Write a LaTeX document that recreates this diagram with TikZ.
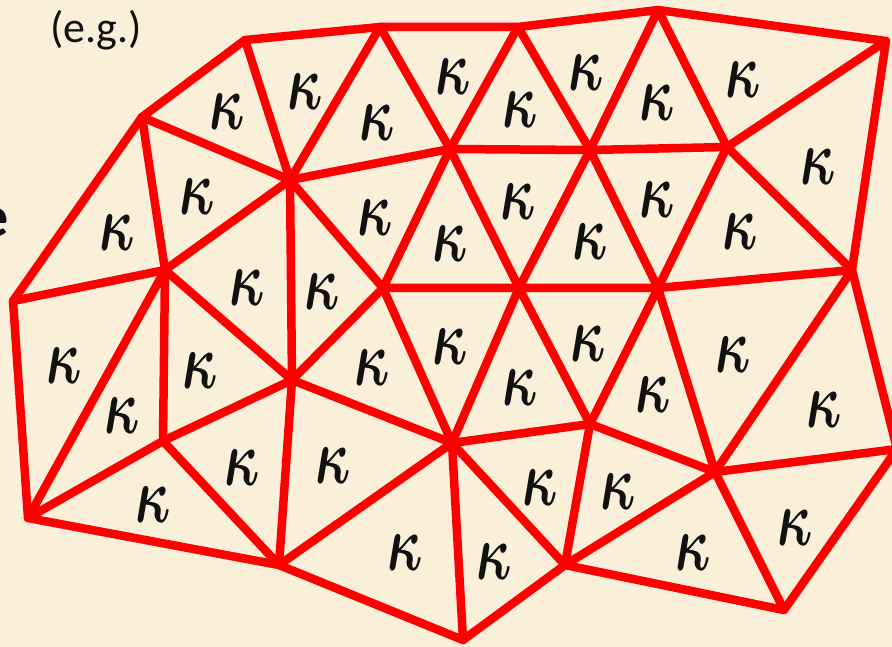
\documentclass[tikz,border=0pt]{standalone}
\usepackage{amsmath}
\usepackage{fontspec}
\newfontfamily\calfont{Carlito}
\definecolor{parch}{HTML}{FAF0D9}
\definecolor{meshred}{HTML}{FF0000}
\definecolor{inkblk}{HTML}{111111}
\newcommand\kap{\scalebox{5.3}[8.0]{$\boldsymbol{\kappa}$}}

\begin{document}
\begin{tikzpicture}[
  x=1pt, y=-1pt,
  edge/.style={draw=meshred, line width=8.5pt, line join=round, line cap=round,
    preaction={draw=black, opacity=0.3,
      transform canvas={xshift=1.5pt, yshift=-2pt}}},
  kap/.style={font=\normalsize, text=inkblk, inner sep=0pt},
]

% Background canvas
\useasboundingbox (0,0) rectangle (892,647);
\fill[parch] (0,0) rectangle (892,647);

% Texts at the left
\node[font=\calfont\fontsize{44}{44}\selectfont, text=inkblk] (eg) at (96,30) {(e.g.)};
\node[font=\calfont\bfseries\fontsize{58}{58}\selectfont, text=inkblk,
  anchor=base] (cut) at (-6,237) {e};

% === Mesh vertices ===
\coordinate (vA) at (245,40);
\coordinate (vB) at (142,117);
\coordinate (vC) at (290,180);
\coordinate (vD) at (380,27);
\coordinate (vE) at (518,27);
\coordinate (vF) at (450,149);
\coordinate (vG) at (590,150);
\coordinate (vH) at (658,10);
\coordinate (vI) at (886,41);
\coordinate (vJ) at (727,147);
\coordinate (vK) at (852,270);
\coordinate (vL) at (658,288);
\coordinate (vM) at (519,288);
\coordinate (vN) at (383,288);
\coordinate (vO) at (292,380);
\coordinate (vP) at (165,270);
\coordinate (vQ) at (13,301);
\coordinate (vR) at (163,441);
\coordinate (vS) at (28,518);
\coordinate (vT) at (279,565);
\coordinate (vU) at (452,443);
\coordinate (vV) at (590,424);
\coordinate (vW) at (565,565);
\coordinate (vX) at (463,640);
\coordinate (vY) at (715,472);
\coordinate (vZ) at (784,610);
\coordinate (vAA) at (897,449);

% === Mesh edges ===
% outline
\draw[edge] (vB) -- (vA) -- (vD) -- (vE) -- (vH) -- (vI) -- (vK) -- (vAA)
  -- (vZ) -- (vW) -- (vX) -- (vT) -- (vS) -- (vQ) -- cycle;
% inner edges
\draw[edge] (vB) -- (vC) -- (vF) -- (vG) -- (vJ) -- (vI);
\draw[edge] (vA) -- (vC) -- (vD) -- (vF) -- (vE) -- (vG) -- (vH) -- (vJ) -- (vK);
\draw[edge] (vQ) -- (vP) -- (vC) -- (vN) -- (vF) -- (vM) -- (vG) -- (vL) -- (vJ);
\draw[edge] (vB) -- (vP) -- (vS) -- (vR) -- (vP) -- (vO) -- (vC);
\draw[edge] (vR) -- (vO) -- (vN) -- (vM) -- (vL) -- (vK) -- (vY);
\draw[edge] (vR) -- (vT) -- (vO) -- (vU) -- (vN);
\draw[edge] (vT) -- (vU) -- (vM) -- (vV) -- (vL) -- (vY) -- (vZ);
\draw[edge] (vX) -- (vU) -- (vW) -- (vV) -- (vU);
\draw[edge] (vV) -- (vY) -- (vW);
\draw[edge] (vY) -- (vAA);

% === Element labels ===
\node[kap] (k1) at (227,112) {\kap};
\node[kap] (k2) at (305,92) {\kap};
\node[kap] (k3) at (377,123) {\kap};
\node[kap] (k4) at (453,77) {\kap};
\node[kap] (k5) at (520,110) {\kap};
\node[kap] (k6) at (586,73) {\kap};
\node[kap] (k7) at (657,103) {\kap};
\node[kap] (k8) at (743,80) {\kap};
\node[kap] (k9) at (818,167) {\kap};
\node[kap] (k10) at (197,197) {\kap};
\node[kap] (k11) at (117,233) {\kap};
\node[kap] (k12) at (375,218) {\kap};
\node[kap] (k13) at (450,244) {\kap};
\node[kap] (k14) at (518,202) {\kap};
\node[kap] (k15) at (590,242) {\kap};
\node[kap] (k16) at (657,200) {\kap};
\node[kap] (k17) at (740,232) {\kap};
\node[kap] (k18) at (247,288) {\kap};
\node[kap] (k19) at (322,292) {\kap};
\node[kap] (k20) at (64,366) {\kap};
\node[kap] (k21) at (122,416) {\kap};
\node[kap] (k22) at (200,371) {\kap};
\node[kap] (k23) at (372,368) {\kap};
\node[kap] (k24) at (450,347) {\kap};
\node[kap] (k25) at (520,388) {\kap};
\node[kap] (k26) at (588,344) {\kap};
\node[kap] (k27) at (653,395) {\kap};
\node[kap] (k28) at (733,355) {\kap};
\node[kap] (k29) at (824,410) {\kap};
\node[kap] (k30) at (153,505) {\kap};
\node[kap] (k31) at (242,468) {\kap};
\node[kap] (k32) at (333,466) {\kap};
\node[kap] (k33) at (405,553) {\kap};
\node[kap] (k34) at (494,562) {\kap};
\node[kap] (k35) at (540,488) {\kap};
\node[kap] (k36) at (618,492) {\kap};
\node[kap] (k37) at (693,553) {\kap};
\node[kap] (k38) at (795,528) {\kap};

\end{tikzpicture}
\end{document}
